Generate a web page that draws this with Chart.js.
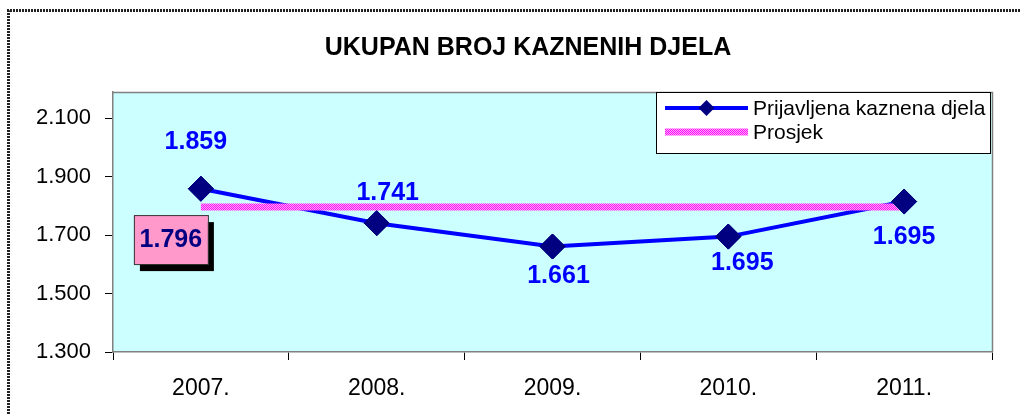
<!DOCTYPE html>
<html><head><meta charset="utf-8">
<script src="https://cdn.jsdelivr.net/npm/chart.js@4"></script>
<style>html,body{margin:0;padding:0;background:#fff}#wrap{width:1021px;height:414px}</style>
</head><body><div id="wrap"><canvas id="c" width="1021" height="414"></canvas></div>
<script>
// ---- data ----
const categories = ['2007.', '2008.', '2009.', '2010.', '2011.'];
const prijave = [1859, 1741, 1661, 1695, 1815];
const prijaveLabels = ['1.859', '1.741', '1.661', '1.695', '1.695'];
const prosjek = [1796, 1796, 1796, 1796, 1796];
const prosjekLabel = '1.796';
const yTicks = [1300, 1500, 1700, 1900, 2100];
const yMin = 1300, yMax = 2190;
const seriesNames = ['Prijavljena kaznena djela', 'Prosjek'];
const chartTitle = 'UKUPAN BROJ KAZNENIH DJELA';

const FONT = "'Liberation Sans', Arial, sans-serif";
Chart.defaults.font.family = FONT;

const canvas = document.getElementById('c');
const ctx0 = canvas.getContext('2d');
const pc = document.createElement('canvas');
pc.width = 2; pc.height = 2;
const pg = pc.getContext('2d');
pg.fillStyle = '#ffb0f5'; pg.fillRect(0, 0, 2, 2);
pg.fillStyle = '#ff00ff'; pg.fillRect(0, 0, 1, 1); pg.fillRect(1, 1, 1, 1);
const pinkPattern = ctx0.createPattern(pc, 'repeat');

function fmt(v) { return String(v).replace(/\B(?=(\d{3})+(?!\d))/g, '.'); }

const labelOffsets = [[-5, -47], [11, -30], [6, 30], [14, 27], [0, 36]];

const decor = {
  id: 'decor',
  beforeDraw(chart) {
    const c = chart.ctx, a = chart.chartArea;
    c.save();
    c.fillStyle = '#fff'; c.fillRect(0, 0, chart.width, chart.height);
    c.strokeStyle = '#222'; c.lineWidth = 3; c.setLineDash([2, 1]);
    c.beginPath(); c.moveTo(8.5, chart.height); c.lineTo(8.5, 10.5); c.lineTo(chart.width, 10.5); c.stroke();
    c.setLineDash([]);
    c.fillStyle = '#ccffff';
    c.fillRect(a.left, a.top, a.right - a.left, a.bottom - a.top);
    c.strokeStyle = '#808080'; c.lineWidth = 1.5;
    c.beginPath(); c.moveTo(a.left, a.top + 0.5); c.lineTo(a.right + 0.5, a.top + 0.5); c.lineTo(a.right + 0.5, a.bottom); c.stroke();
    // title
    c.fillStyle = '#000'; c.font = 'bold 25px ' + FONT;
    c.textAlign = 'center'; c.textBaseline = 'middle';
    c.fillText(chartTitle, 528, 48.5);
    c.restore();
  },
  afterDatasetsDraw(chart) {
    const c = chart.ctx;
    const meta = chart.getDatasetMeta(0);
    meta.data.forEach(el => el.draw(c, chart.chartArea));
  },
  afterDraw(chart) {
    const c = chart.ctx, a = chart.chartArea;
    c.save();
    // data labels
    const meta = chart.getDatasetMeta(0);
    c.font = 'bold 25px ' + FONT;
    c.fillStyle = '#0000ff';
    c.textAlign = 'center'; c.textBaseline = 'middle';
    meta.data.forEach((p, i) => {
      c.fillText(prijaveLabels[i], p.x + labelOffsets[i][0], p.y + labelOffsets[i][1]);
    });
    // average label box
    const ap = chart.getDatasetMeta(1).data[0];
    const bx = ap.x - 67, by = ap.y + 8, bw = 74, bh = 49;
    c.fillStyle = '#000';
    c.fillRect(bx + 6, by + 7, bw, bh);
    c.fillStyle = '#ff99cc';
    c.fillRect(bx, by, bw, bh);
    c.strokeStyle = '#333'; c.lineWidth = 1;
    c.strokeRect(bx + 0.5, by + 0.5, bw, bh);
    c.fillStyle = '#000080';
    c.font = 'bold 25px ' + FONT;
    c.fillText(prosjekLabel, bx + bw / 2, by + bh / 2 + 1);
    // legend
    const lx = a.right - 336, ly = a.top, lw = 334, lh = 61;
    c.fillStyle = '#fff'; c.fillRect(lx, ly, lw, lh);
    c.strokeStyle = '#000'; c.lineWidth = 1;
    c.strokeRect(lx + 0.5, ly + 0.5, lw, lh);
    const r1 = ly + 16, r2 = ly + 40, sx0 = lx + 9, sx1 = lx + 92;
    c.strokeStyle = '#0000ff'; c.lineWidth = 4;
    c.beginPath(); c.moveTo(sx0, r1); c.lineTo(sx1, r1); c.stroke();
    const mx = (sx0 + sx1) / 2;
    c.fillStyle = '#000080';
    c.beginPath(); c.moveTo(mx - 8, r1); c.lineTo(mx, r1 - 8); c.lineTo(mx + 8, r1); c.lineTo(mx, r1 + 8); c.closePath(); c.fill();
    c.strokeStyle = pinkPattern; c.lineWidth = 7;
    c.beginPath(); c.moveTo(sx0, r2); c.lineTo(sx1, r2); c.stroke();
    c.fillStyle = '#000'; c.font = '21px ' + FONT; c.textAlign = 'left';
    c.fillText(seriesNames[0], sx1 + 5, r1 + 1);
    c.fillText(seriesNames[1], sx1 + 5, r2 + 1);
    c.restore();
  }
};

new Chart(canvas, {
  type: 'line',
  data: {
    labels: categories,
    datasets: [
      {
        label: seriesNames[0], data: prijave, order: 1,
        borderColor: '#0000ff', borderWidth: 4, tension: 0,
        pointStyle: 'rectRot', pointRadius: 12.5, pointHoverRadius: 12.5,
        pointBackgroundColor: '#000080', pointBorderColor: '#000080', pointBorderWidth: 1
      },
      {
        label: seriesNames[1], data: prosjek, order: 0,
        borderColor: pinkPattern, borderWidth: 7, pointRadius: 0, borderCapStyle: 'butt'
      }
    ]
  },
  options: {
    responsive: false, animation: false, devicePixelRatio: 1,
    layout: { padding: { left: 10, right: 29, top: 92, bottom: 0 } },
    plugins: {
      legend: { display: false },
      tooltip: { enabled: false },
      title: { display: false }
    },
    scales: {
      x: {
        type: 'category', offset: true,
        grid: { display: true, drawOnChartArea: false, tickLength: 8, color: '#000', offset: true },
        border: { display: true, color: '#808080', width: 1.5 },
        ticks: { font: { size: 23 }, color: '#000', padding: 15, maxRotation: 0 },
        afterFit: s => { s.height = 62; }
      },
      y: {
        min: yMin, max: yMax,
        afterBuildTicks: s => { s.ticks = yTicks.map(v => ({ value: v })); },
        grid: { display: true, drawOnChartArea: false, tickLength: 8, color: '#000' },
        border: { display: true, color: '#808080', width: 1.5 },
        ticks: { font: { size: 22 }, color: '#000', padding: 14, callback: v => fmt(v) },
        afterFit: s => { s.width = 103; }
      }
    }
  },
  plugins: [decor]
});
</script>
</body></html>
